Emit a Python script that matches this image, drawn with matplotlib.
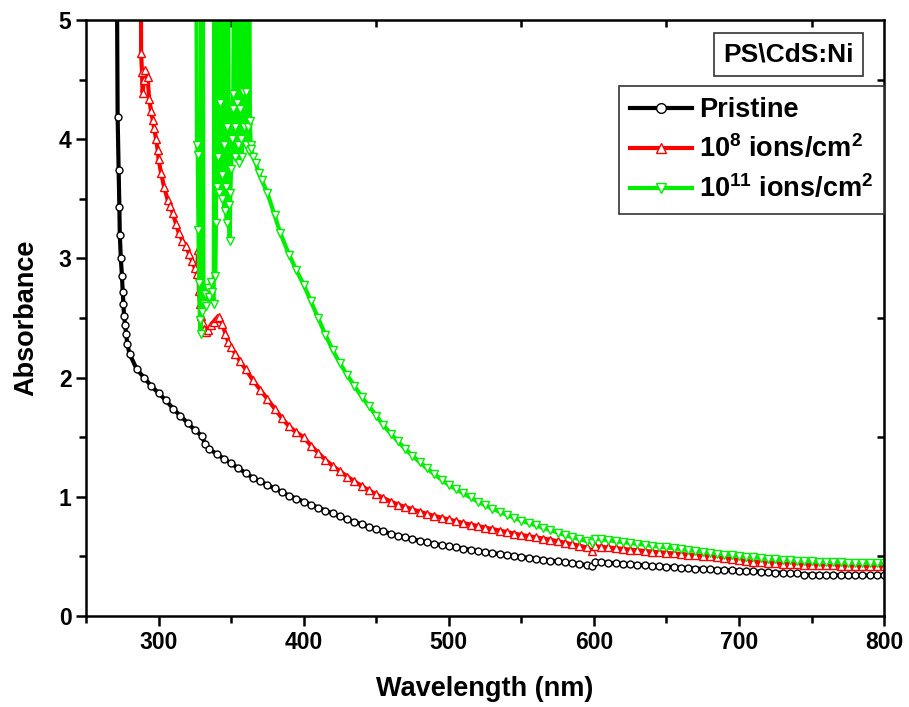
import matplotlib
matplotlib.use("Agg")
import matplotlib.pyplot as plt
from matplotlib.ticker import MultipleLocator, FixedLocator

plt.rcParams['font.family'] = ['Liberation Sans', 'DejaVu Sans']
plt.rcParams['font.weight'] = 'bold'
plt.rcParams['mathtext.fontset'] = 'custom'
plt.rcParams['mathtext.rm'] = 'Liberation Sans:bold'
plt.rcParams['mathtext.bf'] = 'Liberation Sans:bold'

# ---- data (wavelength nm, absorbance) ----
pristine_wl = [271.2, 271.8, 272.5, 273.0, 273.3, 274.0, 274.8, 275.3, 275.8, 276.2,
               277.0, 277.6, 278.5, 280, 285, 290, 295, 300, 305, 310,
               315, 320, 325, 330, 332, 335, 340, 345, 350, 355,
               360, 365, 370, 375, 380, 385, 390, 395, 400, 405,
               410, 415, 420, 425, 430, 435, 440, 445, 450, 455,
               460, 465, 470, 475, 480, 485, 490, 495, 500, 505,
               510, 515, 520, 525, 530, 535, 540, 545, 550, 555,
               560, 565, 570, 575, 580, 585, 590, 595, 599, 601,
               605, 610, 615, 620, 625, 630, 635, 640, 645, 650,
               655, 660, 665, 670, 675, 680, 685, 690, 695, 700,
               705, 710, 715, 720, 725, 730, 735, 740, 745, 750,
               755, 760, 765, 770, 775, 780, 785, 790, 795, 800]
pristine_abs = [5.6, 4.19, 3.74, 3.43, 3.20, 3.00, 2.85, 2.72, 2.62, 2.52,
                2.44, 2.37, 2.28, 2.20, 2.07, 2.00, 1.93, 1.87, 1.81, 1.74,
                1.68, 1.62, 1.56, 1.51, 1.44, 1.40, 1.36, 1.32, 1.28, 1.24,
                1.20, 1.16, 1.13, 1.10, 1.07, 1.04, 1.01, 0.985, 0.96, 0.935,
                0.91, 0.885, 0.86, 0.835, 0.81, 0.79, 0.77, 0.75, 0.73, 0.71,
                0.69, 0.675, 0.66, 0.645, 0.63, 0.618, 0.605, 0.595, 0.585, 0.575,
                0.565, 0.555, 0.545, 0.537, 0.528, 0.52, 0.512, 0.503, 0.495, 0.488,
                0.48, 0.472, 0.465, 0.458, 0.45, 0.443, 0.435, 0.428, 0.42, 0.452,
                0.45, 0.446, 0.442, 0.438, 0.434, 0.43, 0.426, 0.422, 0.418, 0.414,
                0.41, 0.406, 0.402, 0.398, 0.395, 0.392, 0.389, 0.386, 0.383, 0.38,
                0.377, 0.374, 0.371, 0.368, 0.365, 0.362, 0.36, 0.358, 0.348, 0.347,
                0.346, 0.345, 0.344, 0.343, 0.342, 0.342, 0.341, 0.341, 0.34, 0.34]

low_wl = [287.8, 288.0, 288.6, 289.0, 290.0, 291.0, 292.5, 293.5, 294.8, 296,
          297, 298.3, 299.4, 300, 301.7, 303.8, 306.3, 308, 309.8, 312,
          314, 316.5, 319, 321, 323, 325, 326.5, 327.3, 327.8, 328.5,
          329.5, 330.5, 331.5, 332.5, 334, 336,
          338, 340, 342, 344, 346, 348, 350, 353, 356, 360,
          365, 370, 375, 380, 385, 390, 395, 400, 405, 410,
          415, 420, 425, 430, 435, 440, 445, 450, 455, 460,
          465, 470, 475, 480, 485, 490, 495, 500, 505, 510,
          515, 520, 525, 530, 535, 540, 545, 550, 555, 560,
          565, 570, 575, 580, 585, 590, 595, 599, 601, 605,
          610, 615, 620, 625, 630, 635, 640, 645, 650, 655,
          660, 665, 670, 675, 680, 685, 690, 695, 700, 705,
          710, 715, 720, 725, 730, 735, 740, 745, 750, 755,
          760, 765, 770, 775, 780, 785, 790, 795, 800]
low_abs = [5.6, 4.72, 4.56, 4.39, 4.50, 4.58, 4.52, 4.34, 4.24, 4.16,
           4.09, 4.00, 3.91, 3.83, 3.72, 3.60, 3.49, 3.44, 3.38, 3.29,
           3.21, 3.15, 3.10, 3.04, 2.98, 2.92, 2.87, 3.07, 2.73, 2.62,
           2.52, 2.46, 2.41, 2.38, 2.40, 2.44,
           2.47, 2.50, 2.51, 2.45, 2.37, 2.30, 2.26, 2.20, 2.14, 2.07,
           1.98, 1.90, 1.82, 1.74, 1.66, 1.59, 1.54, 1.50, 1.43, 1.37,
           1.31, 1.26, 1.215, 1.17, 1.13, 1.09, 1.055, 1.02, 0.99, 0.96,
           0.935, 0.915, 0.895, 0.875, 0.857, 0.84, 0.825, 0.81, 0.795, 0.78,
           0.767, 0.755, 0.742, 0.73, 0.717, 0.705, 0.692, 0.68, 0.67, 0.66,
           0.65, 0.64, 0.627, 0.615, 0.602, 0.59, 0.575, 0.545, 0.585, 0.58,
           0.575, 0.569, 0.563, 0.557, 0.551, 0.546, 0.54, 0.535, 0.53, 0.525,
           0.52, 0.515, 0.51, 0.505, 0.50, 0.495, 0.49, 0.48, 0.47, 0.462,
           0.455, 0.45, 0.447, 0.443, 0.44, 0.437, 0.435, 0.428, 0.427, 0.426,
           0.425, 0.424, 0.423, 0.422, 0.421, 0.42, 0.419, 0.418, 0.416]

high_wl = [326.0, 326.5, 327.0, 327.5, 328.0, 328.5, 329.0, 329.5, 330.0, 330.5,
           331, 332, 333, 334, 335, 336, 337, 338, 338.5, 339,
           339.5, 340, 340.5, 341, 341.5, 342, 342.5, 343, 343.5, 344,
           344.5, 345, 345.5, 346, 346.5, 347, 347.5, 348, 348.5, 349,
           349.5, 350, 350.5, 351, 351.5, 352, 352.5, 353, 353.5, 354,
           354.5, 355, 355.5, 356, 356.5, 357, 357.5, 358, 358.5, 359,
           359.5, 360, 360.5, 361, 361.5, 362, 362.5, 363, 363.5, 364,
           365, 367, 369, 371, 375, 380, 384, 390, 395, 400,
           405, 410, 415, 420, 425, 430, 435, 440, 445, 450,
           455, 460, 465, 470, 475, 480, 485, 490, 495, 500,
           505, 510, 515, 520, 525, 530, 535, 540, 545, 550,
           555, 560, 565, 570, 575, 580, 585, 590, 595, 599,
           601, 605, 610, 615, 620, 625, 630, 635, 640, 645,
           650, 655, 660, 665, 670, 675, 680, 685, 690, 695,
           700, 705, 710, 715, 720, 725, 730, 735, 740, 745,
           750, 755, 760, 765, 770, 775, 780, 785, 790, 795, 800]
high_abs = [5.5, 3.95, 3.87, 3.24, 2.79, 2.48, 2.37, 5.5, 2.55, 5.5,
            2.62, 2.70, 2.60, 2.75, 2.68, 2.80, 2.72, 2.62, 5.5, 2.85,
            3.30, 5.5, 3.60, 3.85, 5.5, 3.55, 4.30, 5.5, 3.70, 3.50,
            5.5, 3.95, 3.40, 5.5, 3.60, 3.30, 4.10, 5.5, 3.45, 3.15,
            3.55, 3.75, 4.00, 4.25, 4.38, 5.5, 3.85, 4.10, 5.5, 4.30,
            3.95, 5.5, 3.80, 4.25, 5.5, 4.00, 3.85, 5.5, 4.40, 4.10,
            5.5, 3.95, 4.40, 5.5, 4.10, 3.90, 5.5, 4.15, 3.95, 3.92,
            3.85, 3.80, 3.72, 3.66, 3.55, 3.36, 3.21, 3.03, 2.90, 2.78,
            2.64, 2.50, 2.36, 2.23, 2.12, 2.02, 1.93, 1.84, 1.76, 1.68,
            1.60, 1.53, 1.465, 1.40, 1.345, 1.29, 1.24, 1.19, 1.145, 1.10,
            1.065, 1.03, 0.995, 0.96, 0.93, 0.90, 0.875, 0.85, 0.825, 0.80,
            0.78, 0.76, 0.74, 0.72, 0.70, 0.68, 0.662, 0.645, 0.628, 0.615,
            0.65, 0.643, 0.635, 0.628, 0.62, 0.612, 0.605, 0.598, 0.59, 0.582,
            0.575, 0.568, 0.56, 0.553, 0.546, 0.539, 0.532, 0.524, 0.516, 0.51,
            0.505, 0.498, 0.492, 0.486, 0.481, 0.476, 0.472, 0.468, 0.465, 0.462,
            0.458, 0.456, 0.454, 0.452, 0.45, 0.448, 0.446, 0.444, 0.443, 0.442, 0.441]

labels = ['Pristine', r'10$^{8}$ ions/cm$^{2}$', r'10$^{11}$ ions/cm$^{2}$']

fig = plt.figure(figsize=(9.09, 7.07), dpi=100)
ax = fig.add_axes([0.0946, 0.1287, 0.878, 0.843])

ax.plot(pristine_wl, pristine_abs, color='black', lw=3, marker='o', ms=5,
        mfc='white', mec='black', mew=1.0, label=labels[0])
ax.plot(low_wl, low_abs, color='#ff0000', lw=3, marker='^', ms=6,
        mfc='white', mec='#ff0000', mew=1.0, label=labels[1])
ax.plot(high_wl, high_abs, color='#00ee00', lw=3, marker='v', ms=6,
        mfc='white', mec='#00ee00', mew=1.0, label=labels[2])

ax.set_xlim(250, 800)
ax.set_ylim(0, 5)

# bottom / left ticks outward
ax.xaxis.set_major_locator(MultipleLocator(100))
ax.xaxis.set_minor_locator(FixedLocator([250, 350, 450, 550, 650, 750]))
ax.yaxis.set_major_locator(MultipleLocator(1))
ax.yaxis.set_minor_locator(MultipleLocator(0.5))
ax.tick_params(axis='both', which='major', direction='out', length=7, width=1.8,
               labelsize=16.5, top=False, right=False)
ax.tick_params(axis='both', which='minor', direction='out', length=5, width=1.8,
               top=False, right=False)
for lab in ax.get_xticklabels() + ax.get_yticklabels():
    lab.set_fontweight('bold')

# top / right minor ticks inward
top = ax.secondary_xaxis('top')
top.set_xticks([350, 450, 550, 650, 750])
top.tick_params(direction='in', length=5, width=1.8, labeltop=False)
top.spines['top'].set_visible(False)
right = ax.secondary_yaxis('right')
right.set_yticks([0.5, 1.5, 2.5, 3.5, 4.5])
right.tick_params(direction='in', length=5, width=1.8, labelright=False)
right.spines['right'].set_visible(False)

for s in ax.spines.values():
    s.set_linewidth(1.8)

ax.set_xlabel('Wavelength (nm)', fontsize=19.5, fontweight='bold', labelpad=16)
ax.set_ylabel('Absorbance', fontsize=19.5, fontweight='bold', labelpad=14)

ax.text(0.88, 0.942, r'PS\CdS:Ni', transform=ax.transAxes, fontsize=19,
        fontweight='bold', ha='center', va='center',
        bbox=dict(boxstyle='square,pad=0.35', fc='white', ec='#333333', lw=1.2))

leg = ax.legend(loc='upper right', bbox_to_anchor=(1.0, 0.889), borderaxespad=0,
                fontsize=19.5, numpoints=1, handlelength=2.3, handletextpad=0.25,
                labelspacing=0.42, fancybox=False, framealpha=1,
                edgecolor='#333333', borderpad=0.4)
leg.get_frame().set_linewidth(1.2)
for t in leg.get_texts():
    t.set_fontweight('bold')
for h in leg.legend_handles:
    h.set_markersize(7)

fig.savefig('out.png', dpi=100)
